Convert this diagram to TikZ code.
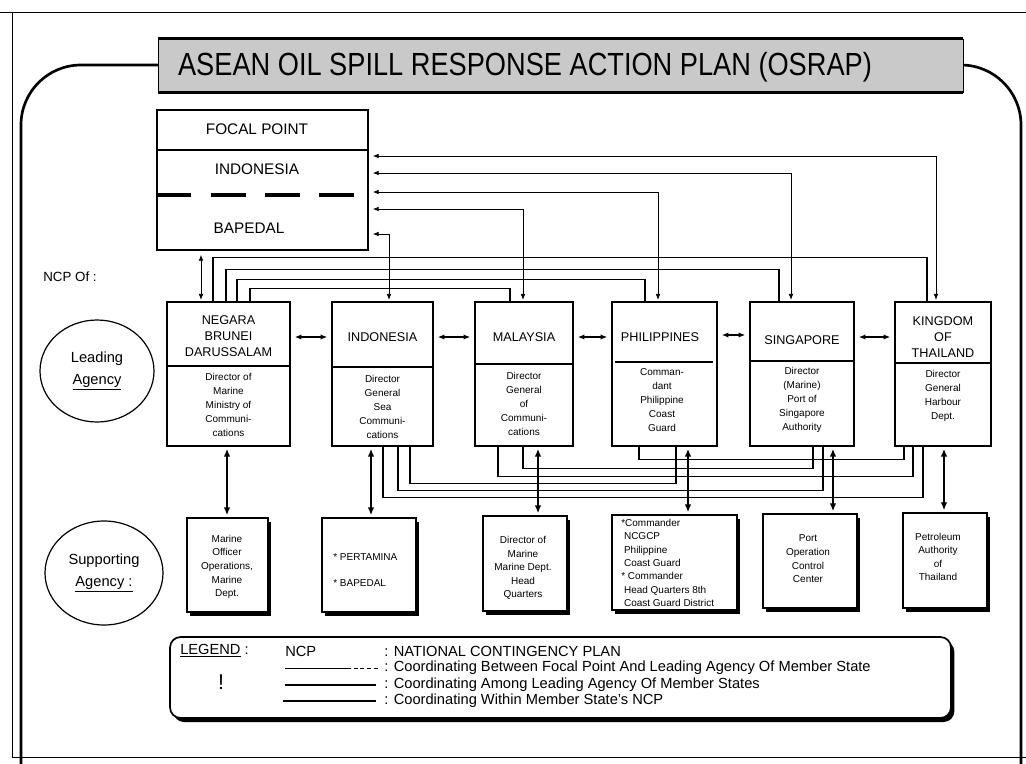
\documentclass[tikz,border=0pt]{standalone}
\usepackage{fontspec}
\setmainfont{Liberation Sans}
\usetikzlibrary{arrows.meta,shapes.geometric,fit,shadows}
\begin{document}
\begin{tikzpicture}[x=0.75pt,y=-0.75pt,
  box/.style={draw,line width=1.1pt,inner sep=0pt},
  sbox/.style={draw,fill=white,line width=1.1pt,inner sep=0pt,
     drop shadow={shadow xshift=2.5pt,shadow yshift=-3pt,fill=black,opacity=1}},
  cname/.style={font=\fontsize{9.5}{12}\selectfont,align=center,inner sep=0pt},
  small/.style={font=\fontsize{7.5}{10.5}\selectfont,align=center,inner sep=0pt},
  fpl/.style={line width=0.6pt,{Latex[length=4.5pt,width=3.5pt]}-{Latex[length=4.5pt,width=3.5pt]},shorten <=3pt,shorten >=1pt},
  aml/.style={line width=1pt},
  nbr/.style={line width=1.2pt,{Latex[length=5pt,width=4pt]}-{Latex[length=5pt,width=4pt]},shorten <=3pt,shorten >=3pt},
  ncpa/.style={line width=1.6pt,{Latex[length=6pt,width=5pt]}-{Latex[length=6pt,width=5pt]},shorten <=1.5pt,shorten >=1.5pt},
  lab/.style={font=\fontsize{11}{16.5}\selectfont,align=center,inner sep=0pt},
  leg/.style={font=\fontsize{11}{13}\selectfont,anchor=west,inner sep=0pt},
]
\useasboundingbox (0,0) rectangle (1026,764);
\fill[white] (0,0) rectangle (1026,764);

% outer frame
\draw[line width=0.6pt] (0,12) -- (1026,12);
\draw[line width=0.6pt] (12,12) -- (12,757) -- (1026,757);
\draw[line width=2pt,rounded corners=45pt] (21,764) -- (21,65) -- (1021,65) -- (1021,764);

% title banner
\node[fill=gray!42,draw,line width=0.6pt,fit={(158,39) (963,92)},inner sep=0pt] (banner) {};
\draw[line width=2pt] (banner.north west) -- (banner.north east);
\draw[line width=2pt] (banner.south west) -- (banner.south east);
\node[inner sep=0pt] (title) at (525,67) {\scalebox{0.85}[1]{\fontsize{24}{24}\selectfont ASEAN OIL SPILL RESPONSE ACTION PLAN (OSRAP)}};

% focal point
\node[box,fit={(157,110) (368,250)}] (fp) {};
\draw[line width=1.3pt] (fp.west |- 0,150) -- (fp.east |- 0,150);
\draw[line width=3pt,dash pattern=on 26.25pt off 14.5pt] (fp.west |- 0,195) -- (fp.east |- 0,195);
\node[font=\fontsize{11.5}{14}\selectfont,inner sep=0pt] (fpT) at (257,129) {FOCAL POINT};
\node[font=\fontsize{11.5}{14}\selectfont,inner sep=0pt] (fpI) at (257,169) {INDONESIA};
\node[font=\fontsize{11.5}{14}\selectfont,inner sep=0pt] (fpB) at (249,228) {BAPEDAL};

\node[font=\fontsize{10}{12}\selectfont,inner sep=0pt] (ncpof) at (70,277) {NCP Of :};

% ellipses
\node[draw,ellipse,line width=0.9pt,minimum width=85.5pt,minimum height=76.5pt,lab] (lead) at (97,371) {Leading\\\underline{Agency}};
\node[draw,ellipse,line width=0.9pt,minimum width=88.5pt,minimum height=78pt,lab] (supp) at (104,573) {Supporting\\\underline{Agency :}};

% leading agency boxes
\node[box,fit={(167,302) (290,446)}] (bru) {};
\node[box,fit={(332,302) (433,446)}] (ind) {};
\node[box,fit={(475,302) (573,446)}] (mal) {};
\node[box,fit={(612,302) (717,446)}] (phi) {};
\node[box,fit={(750,302) (854,446)}] (sin) {};
\node[box,fit={(895,302) (991,446)}] (tha) {};
\draw[line width=2pt] (bru.west |- 0,366) -- (bru.east |- 0,366);
\draw[line width=2pt] (ind.west |- 0,367) -- (ind.east |- 0,367);
\draw[line width=2pt] (mal.west |- 0,364) -- (mal.east |- 0,364);
\draw[line width=0.8pt] (615,362) -- (713,362);
\draw[line width=2pt] (sin.west |- 0,361) -- (sin.east |- 0,361);
\draw[line width=2pt] (tha.west |- 0,363) -- (tha.east |- 0,363);

\node[cname] (bruN) at (228.5,336) {NEGARA\\BRUNEI\\DARUSSALAM};
\node[cname] (indN) at (382.5,337) {INDONESIA};
\node[cname] (malN) at (524,337) {MALAYSIA};
\node[cname] (phiN) at (660,337) {PHILIPPINES};
\node[cname] (sinN) at (802,340) {SINGAPORE};
\node[cname] (thaN) at (943,337) {KINGDOM\\OF\\THAILAND};

\node[small] (bruD) at (228.5,405) {Director of\\Marine\\Ministry of\\Communi-\\cations};
\node[small] (indD) at (382.5,407) {Director\\General\\Sea\\Communi-\\cations};
\node[small] (malD) at (524,404) {Director\\General\\of\\Communi-\\cations};
\node[small] (phiD) at (662,400) {Comman-\\dant\\Philippine\\Coast\\Guard};
\node[small] (sinD) at (802,400) {Director\\(Marine)\\Port of\\Singapore\\Authority};
\node[small] (thaD) at (943,396) {Director\\General\\Harbour\\Dept.};

% supporting agency boxes
\node[sbox,fit={(187,518) (268,612)}] (sbru) {};
\node[sbox,fit={(322,518) (416,612)}] (sind) {};
\node[sbox,fit={(483,516) (567,611)}] (smal) {};
\node[sbox,fit={(612,515) (737,610)}] (sphi) {};
\node[sbox,fit={(763,514) (857,608)}] (ssin) {};
\node[sbox,fit={(903,513) (987,608)}] (stha) {};

\node[small,font=\fontsize{7.5}{10.2}\selectfont] (sbruT) at (227,567) {Marine\\Officer\\Operations,\\Marine\\Dept.};
\node[small,align=left,anchor=west,font=\fontsize{7.5}{19.5}\selectfont] (sindT) at (333,570) {* PERTAMINA\\* BAPEDAL};
\node[small,font=\fontsize{7.5}{10.2}\selectfont] (smalT) at (523,568) {Director of\\Marine\\Marine Dept.\\Head\\Quarters};
\node[small,align=left,anchor=west,font=\fontsize{7.5}{10}\selectfont] (sphiT) at (621,563) {*Commander\\\ NCGCP\\\ Philippine\\\ Coast Guard\\* Commander\\\ Head Quarters 8th\\\ Coast Guard District};
\node[small,font=\fontsize{7.5}{10.2}\selectfont] (ssinT) at (808,559) {Port\\Operation\\Control\\Center};
\node[small,font=\fontsize{7.5}{10.2}\selectfont] (sthaT) at (938,557) {Petroleum\\Authority\\of\\Thailand};

% focal point <-> leading agencies
\draw[fpl] (fp.east |- 0,156) -| (tha.north -| 936,0);
\draw[fpl] (fp.east |- 0,173) -| (sin.north -| 791,0);
\draw[fpl] (fp.east |- 0,192) -| (phi.north -| 658,0);
\draw[fpl] (fp.east |- 0,209) -| (mal.north -| 523,0);
\draw[fpl] (fp.east |- 0,234) -| (ind.north -| 389,0);
\draw[fpl] (fp.south -| 201,0) -- (bru.north -| 201,0);

% among leading agencies (top)
\draw[aml] (bru.north -| 213,0) -- ++(0,-44) -| (tha.north -| 927,0);
\draw[aml] (bru.north -| 226,0) -- ++(0,-32) -| (sin.north -| 779,0);
\draw[aml] (bru.north -| 237,0) -- ++(0,-22) -| (phi.north -| 645,0);
\draw[aml] (bru.north -| 250,0) -- ++(0,-13) -| (mal.north -| 510,0);

% among leading agencies (bottom)
\draw[aml] (phi.south -| 639,0) -- ++(0,13) -| (tha.south -| 904,0);
\draw[aml] (mal.south -| 523,0) -- ++(0,22) -| (sin.south -| 813,0);
\draw[aml] (mal.south -| 498,0) -- ++(0,30) -| (tha.south -| 913,0);
\draw[aml] (ind.south -| 410,0) -- ++(0,37) -| (phi.south -| 676,0);
\draw[aml] (ind.south -| 398,0) -- ++(0,44) -| (sin.south -| 823,0);
\draw[aml] (ind.south -| 383,0) -- ++(0,51) -| (tha.south -| 923,0);

% neighbours
\draw[nbr] (bru.east |- 0,337) -- (ind.west |- 0,337);
\draw[nbr] (ind.east |- 0,337) -- (mal.west |- 0,337);
\draw[nbr] (mal.east |- 0,337) -- (phi.west |- 0,337);
\draw[nbr] (phi.east |- 0,335) -- (sin.west |- 0,335);
\draw[nbr] (sin.east |- 0,337) -- (tha.west |- 0,337);

% within NCP
\draw[ncpa] (bru.south -| 227,0) -- (sbru.north -| 227,0);
\draw[ncpa] (ind.south -| 371,0) -- (sind.north -| 371,0);
\draw[ncpa] (mal.south -| 538,0) -- (smal.north -| 538,0);
\draw[ncpa] (phi.south -| 688,0) -- (sphi.north -| 688,0);
\draw[ncpa] (sin.south -| 833,0) -- (ssin.north -| 833,0);
\draw[ncpa] (tha.south -| 944,0) -- (stha.north -| 944,0);

% legend
\node[draw,fill=white,line width=1.3pt,rounded corners=8pt,inner sep=0pt,fit={(170,637) (951,718)},
  drop shadow={shadow xshift=2.5pt,shadow yshift=-3pt,fill=black,opacity=1}] (legend) {};
\node[leg] (legT) at (180,651) {\underline{LEGEND} :};
\node[leg] (legN) at (285,651) {NCP};
\node[leg] (leg1) at (384,651) {: NATIONAL CONTINGENCY PLAN};
\node[leg] (leg2) at (384,668) {: Coordinating Between Focal Point And Leading Agency Of Member State};
\node[leg] (leg3) at (384,685) {: Coordinating Among Leading Agency Of Member States};
\node[leg] (leg4) at (384,701) {: Coordinating Within Member State's NCP};
\node[font=\fontsize{16}{16}\selectfont,inner sep=0pt] (excl) at (221,682) {!};
\coordinate (l2a) at (285,668);
\coordinate (l2b) at (378,668);
\draw[line width=0.6pt] (l2a) -- ++(62,0);
\draw[line width=0.6pt,dash pattern=on 3pt off 2pt] (l2a) ++(62,0) -- (l2b);
\coordinate (l3a) at (285,685);
\coordinate (l3b) at (376,685);
\draw[line width=1.1pt] (l3a) -- (l3b);
\coordinate (l4a) at (283,701);
\coordinate (l4b) at (376,701);
\draw[line width=2pt] (l4a) -- (l4b);
\end{tikzpicture}
\end{document}
